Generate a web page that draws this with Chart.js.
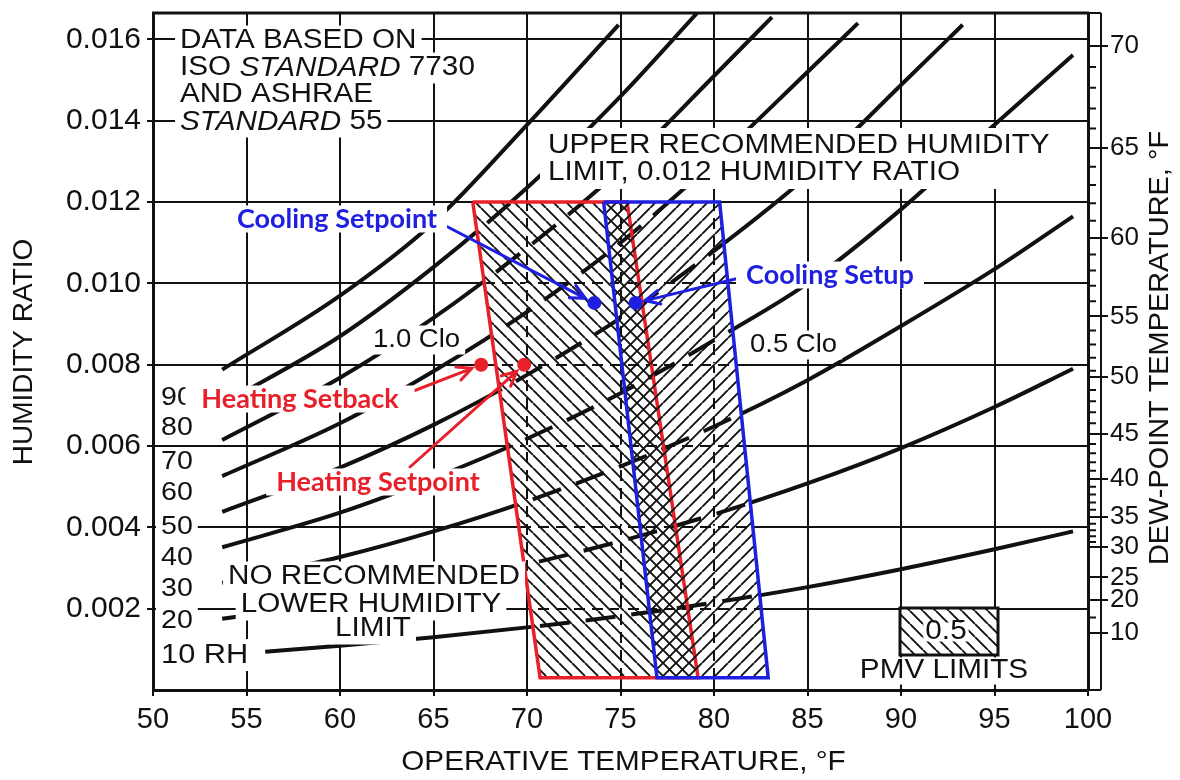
<!DOCTYPE html>
<html>
<head>
<meta charset="utf-8">
<script src="https://cdn.jsdelivr.net/npm/chart.js@4.4.1/dist/chart.umd.min.js"></script>
<style>
  html, body { margin: 0; padding: 0; background: #fff; overflow: hidden; }
  canvas { display: block; }
</style>
</head>
<body>
<canvas id="chart" width="1180" height="780"></canvas>
<script>
// ASHRAE 55 comfort chart - operative temperature vs humidity ratio

const tempTicks = [50, 55, 60, 65, 70, 75, 80, 85, 90, 95, 100];
const ratioTicks = [0.002, 0.004, 0.006, 0.008, 0.010, 0.012, 0.014, 0.016];

// dew-point scale (right side), humidity ratio at each labelled dew point
const dewMajor = [70, 65, 60, 55, 50, 45, 40, 35, 30, 25, 20, 10];
const dewMajorW = [0.01585, 0.01333, 0.01111, 0.00919, 0.0077, 0.0063, 0.00519, 0.00425, 0.00351, 0.00277, 0.00222, 0.00141];
const dewMinorW = [0.01532, 0.01481, 0.01430, 0.01381, 0.01287, 0.01242, 0.01197, 0.01154,
  0.01071, 0.01032, 0.00994, 0.00956, 0.00884, 0.00850, 0.00817, 0.00785,
  0.00738, 0.00710, 0.00683, 0.00656, 0.00605, 0.00582, 0.00560, 0.00539,
  0.00500, 0.00481, 0.00461, 0.00443, 0.00409, 0.00393, 0.00378, 0.00364, 0.00178];

// relative humidity curves (temperature °F, humidity ratio)
const rh10T = [56, 60, 65, 70, 75, 80, 85, 90, 95, 99.2];
const rh10W = [0.00094, 0.00109, 0.00130, 0.00154, 0.00182, 0.00215, 0.00253, 0.00297, 0.00346, 0.00390];
const rh20T = [53.7, 60, 65, 70, 75, 80, 85, 90, 95, 99.2];
const rh20W = [0.00175, 0.00218, 0.00260, 0.00309, 0.00366, 0.00432, 0.00508, 0.00595, 0.00696, 0.00790];
const rh30T = [53.7, 60, 65, 70, 75, 80, 85, 90, 95, 99.2];
const rh30W = [0.00263, 0.00327, 0.00390, 0.00464, 0.00550, 0.00648, 0.00762, 0.00895, 0.01035, 0.01165];
const rh40T = [53.7, 60, 65, 70, 75, 80, 85, 90, 95, 99.2];
const rh40W = [0.00351, 0.00436, 0.00521, 0.00618, 0.00730, 0.00860, 0.01000, 0.01182, 0.01390, 0.01562];
const rh50T = [53.7, 60, 65, 70, 75, 80, 85, 90, 93.3];
const rh50W = [0.00438, 0.00547, 0.00652, 0.00775, 0.00915, 0.01080, 0.01265, 0.01488, 0.01636];
const rh60T = [53.7, 60, 65, 70, 75, 80, 85, 87.7];
const rh60W = [0.00526, 0.00656, 0.00784, 0.00930, 0.01100, 0.01300, 0.01520, 0.01640];
const rh70T = [53.7, 60, 65, 70, 75, 80, 83.1];
const rh70W = [0.00615, 0.00768, 0.00915, 0.01087, 0.01280, 0.01510, 0.01655];
const rh80T = [53.7, 60, 65, 70, 75, 79.1];
const rh80W = [0.00703, 0.00870, 0.01040, 0.01235, 0.01460, 0.01665];
const rh90T = [53.7, 60, 65, 70, 74.9];
const rh90W = [0.00788, 0.00970, 0.01150, 0.01390, 0.01636];

// comfort zones (corner points: top-left, top-right, bottom-right, bottom-left)
const winterT = [67.1, 75.35, 79.15, 70.7];
const winterW = [0.012, 0.012, 0.0003, 0.0003];
const summerT = [74.1, 80.3, 82.9, 76.95];
const summerW = [0.012, 0.012, 0.0003, 0.0003];

// thermostat points
const heatT = [67.55, 69.85];
const heatW = [0.0080, 0.0080];
const coolT = [73.6, 75.8];
const coolW = [0.00952, 0.00952];

const RED = '#e8202a';
const BLUE = '#1f1fe0';
const INK = '#111';
const SANS = "'Liberation Sans', Arial, sans-serif";
const BOLD = "Lato, 'Open Sans', sans-serif";

function hatch(dir) {
  const s = 13;
  const c = document.createElement('canvas');
  c.width = s; c.height = s;
  const g = c.getContext('2d');
  g.strokeStyle = INK;
  g.lineWidth = 1.9;
  g.beginPath();
  for (let k = -1; k <= 1; k++) {
    if (dir === '/') { g.moveTo(k * s, s); g.lineTo(k * s + s, 0); }
    else { g.moveTo(k * s, 0); g.lineTo(k * s + s, s); }
  }
  g.stroke();
  return g.createPattern(c, 'repeat');
}
const hatchBack = hatch('\\');
const hatchFwd = hatch('/');

const pts = (T, W) => T.map((t, i) => ({ x: t, y: W[i] }));
const closed = (T, W) => pts(T, W).concat([{ x: T[0], y: W[0] }]);

function rhCurve(T, W, mode) {
  return {
    type: 'line',
    data: pts(T, W),
    borderColor: INK,
    borderWidth: 4,
    borderDash: mode === 'inside' ? [30, 16] : [],
    pointRadius: 0,
    cubicInterpolationMode: 'monotone',
    fill: false,
    clipZone: mode,
    order: mode === 'inside' ? 29 : 30
  };
}

const rhSets = [[rh10T, rh10W], [rh20T, rh20W], [rh30T, rh30W], [rh40T, rh40W], [rh50T, rh50W],
  [rh60T, rh60W], [rh70T, rh70W], [rh80T, rh80W], [rh90T, rh90W]];

function zonePath(chart, T, W) {
  const xs = chart.scales.x, ys = chart.scales.y;
  const p = new Path2D();
  T.forEach((t, i) => {
    const px = xs.getPixelForValue(t), py = ys.getPixelForValue(W[i]);
    if (i) p.lineTo(px, py); else p.moveTo(px, py);
  });
  p.closePath();
  return p;
}

// text with optional white box behind it; parts = [[text, italic], ...]
function drawText(ctx, parts, x, y, o) {
  const size = o.size || 27, sx = o.sx || 1, weight = o.weight || 'normal';
  const fam = o.family || SANS;
  const widths = parts.map(([t, it]) => {
    ctx.font = `${it ? 'italic ' : ''}${weight} ${size}px ${fam}`;
    return ctx.measureText(t).width * sx;
  });
  const total = widths.reduce((a, b) => a + b, 0);
  let cx = o.align === 'center' ? x - total / 2 : x;
  if (o.bg) {
    const px = o.padX != null ? o.padX : 5, py = o.padY != null ? o.padY : 2;
    ctx.fillStyle = '#fff';
    ctx.fillRect(cx - px, y - size / 2 - py, total + 2 * px, size + 2 * py);
  }
  ctx.fillStyle = o.color || INK;
  ctx.textBaseline = 'middle';
  ctx.textAlign = 'left';
  parts.forEach(([t, it], i) => {
    ctx.font = `${it ? 'italic ' : ''}${weight} ${size}px ${fam}`;
    ctx.save();
    ctx.translate(cx, y);
    ctx.scale(sx, 1);
    ctx.fillText(t, 0, 0);
    ctx.restore();
    cx += widths[i];
  });
}

function arrow(ctx, x1, y1, x2, y2, color) {
  const a = Math.atan2(y2 - y1, x2 - x1), L = 16, sp = 0.45;
  ctx.strokeStyle = color;
  ctx.lineWidth = 3;
  ctx.lineCap = 'round';
  ctx.beginPath();
  ctx.moveTo(x1, y1); ctx.lineTo(x2, y2);
  ctx.moveTo(x2 - L * Math.cos(a - sp), y2 - L * Math.sin(a - sp));
  ctx.lineTo(x2, y2);
  ctx.lineTo(x2 - L * Math.cos(a + sp), y2 - L * Math.sin(a + sp));
  ctx.stroke();
}

const blackNotes = [
  { parts: [['DATA BASED ON']], x: 180, y: 41 },
  { parts: [['ISO '], ['STANDARD', true], [' 7730']], x: 180, y: 68 },
  { parts: [['AND ASHRAE']], x: 180, y: 95 },
  { parts: [['STANDARD', true], [' 55']], x: 180, y: 122 },
  { parts: [['1.0 Clo']], x: 373, y: 340, size: 25 },
  { parts: [['0.5 Clo']], x: 750, y: 345, size: 25 },
  { parts: [['NO RECOMMENDED']], x: 374, y: 577, align: 'center' },
  { parts: [['LOWER HUMIDITY']], x: 371, y: 605, align: 'center' },
  { parts: [['LIMIT']], x: 373, y: 629, align: 'center' },
  { parts: [['90']], x: 161, y: 398, size: 26 },
  { parts: [['80']], x: 161, y: 428, size: 26 },
  { parts: [['70']], x: 161, y: 462, size: 26 },
  { parts: [['60']], x: 161, y: 493, size: 26 },
  { parts: [['50']], x: 161, y: 527, size: 26 },
  { parts: [['40']], x: 161, y: 558, size: 26 },
  { parts: [['30']], x: 161, y: 589, size: 26 },
  { parts: [['20']], x: 161, y: 621, size: 26 },
  { parts: [['10 RH']], x: 161, y: 655, size: 28 }
];

const colorNotes = [
  { text: 'Cooling Setpoint', x: 337, y: 219, color: BLUE, tail: [442, 224], dot: 0, set: 'cool', pad: 10 },
  { text: 'Cooling Setup', x: 830, y: 275, color: BLUE, tail: [748, 276], dot: 1, set: 'cool', pad: 10 },
  { text: 'Heating Setback', x: 300, y: 399, color: RED, tail: [398, 397], dot: 0, set: 'heat', pad: 16 },
  { text: 'Heating Setpoint', x: 378, y: 482, color: RED, tail: [410, 467], dot: 1, set: 'heat', pad: 10 }
];

const comfortPlugin = {
  id: 'comfort',
  beforeDatasetsDraw(chart) {
    // grid lines look broken inside the hatched zones
    const { ctx, chartArea: a } = chart;
    const zones = new Path2D();
    zones.addPath(zonePath(chart, winterT, winterW));
    zones.addPath(zonePath(chart, summerT, summerW));
    ctx.save();
    ctx.clip(zones);
    ctx.strokeStyle = '#fff';
    ctx.lineWidth = 3;
    ctx.setLineDash([7, 11]);
    ctx.beginPath();
    tempTicks.forEach(t => { const px = chart.scales.x.getPixelForValue(t); ctx.moveTo(px, a.top); ctx.lineTo(px, a.bottom); });
    ratioTicks.forEach(w => { const py = chart.scales.y.getPixelForValue(w); ctx.moveTo(a.left, py); ctx.lineTo(a.right, py); });
    ctx.stroke();
    ctx.restore();
  },
  beforeDatasetDraw(chart, args) {
    const ds = chart.data.datasets[args.index];
    if (!ds.clipZone) return;
    const ctx = chart.ctx;
    ctx.save();
    if (ds.clipZone === 'inside') {
      const zones = new Path2D();
      zones.addPath(zonePath(chart, winterT, winterW));
      zones.addPath(zonePath(chart, summerT, summerW));
      ctx.clip(zones);
    } else {
      [[winterT, winterW], [summerT, summerW]].forEach(([T, W]) => {
        const p = new Path2D();
        p.rect(0, 0, chart.width, chart.height);
        p.addPath(zonePath(chart, T, W));
        ctx.clip(p, 'evenodd');
      });
    }
  },
  afterDatasetDraw(chart, args) {
    const ds = chart.data.datasets[args.index];
    if (ds.clipZone) chart.ctx.restore();
  },
  afterDatasetsDraw(chart) {
    const ctx = chart.ctx;
    blackNotes.forEach(n => drawText(ctx, n.parts, n.x, n.y,
      { size: n.size || 27, sx: 1.1, bg: true, align: n.align }));
    // recommended upper limit note sits in one white block
    ctx.fillStyle = '#fff';
    ctx.fillRect(540, 128, 518, 61);
    drawText(ctx, [['UPPER RECOMMENDED HUMIDITY']], 548, 146, { size: 27, sx: 1.1 });
    drawText(ctx, [['LIMIT, 0.012 HUMIDITY RATIO']], 548, 173, { size: 27, sx: 1.1 });
  },
  afterDraw(chart) {
    const { ctx, chartArea: a } = chart;
    const xs = chart.scales.x, ys = chart.scales.y, y2 = chart.scales.y2;
    ctx.save();
    ctx.strokeStyle = INK;
    // top frame
    ctx.lineWidth = 3;
    ctx.beginPath();
    ctx.moveTo(a.left - 1, a.top); ctx.lineTo(a.right + 1, a.top);
    ctx.stroke();
    // dew point strip
    ctx.lineWidth = 2;
    ctx.beginPath();
    ctx.moveTo(a.right + 13, a.top); ctx.lineTo(a.right + 13, a.bottom);
    ctx.moveTo(a.right, a.top); ctx.lineTo(a.right + 13, a.top);
    ctx.moveTo(a.right, a.bottom); ctx.lineTo(a.right + 13, a.bottom);
    dewMinorW.forEach(w => { const py = y2.getPixelForValue(w); ctx.moveTo(a.right, py); ctx.lineTo(a.right + 8, py); });
    ctx.stroke();

    // axis titles
    drawText(ctx, [['OPERATIVE TEMPERATURE, °F']], (a.left + a.right) / 2 + 3, 762, { size: 28, sx: 1.06, align: 'center' });
    ctx.save();
    ctx.translate(24, 352);
    ctx.rotate(-Math.PI / 2);
    drawText(ctx, [['HUMIDITY RATIO']], 0, 0, { size: 28, sx: 1.0, align: 'center' });
    ctx.restore();
    ctx.save();
    ctx.translate(1161, 348);
    ctx.rotate(-Math.PI / 2);
    drawText(ctx, [['DEW-POINT TEMPERATURE, °F']], 0, 0, { size: 27, sx: 1.07, align: 'center' });
    ctx.restore();

    // PMV legend
    ctx.fillStyle = '#fff';
    ctx.fillRect(900, 608, 98, 47);
    ctx.fillStyle = hatchBack;
    ctx.fillRect(900, 608, 98, 47);
    ctx.lineWidth = 3;
    ctx.strokeStyle = INK;
    ctx.strokeRect(900, 608, 98, 47);
    drawText(ctx, [['0.5']], 946, 632, { size: 27, sx: 1.1, align: 'center', bg: true, padX: 2, padY: -4 });
    drawText(ctx, [['PMV LIMITS']], 944, 671, { size: 27, sx: 1.1, align: 'center', bg: true, padY: 0 });

    // coloured annotations with arrows
    colorNotes.forEach(n => {
      const T = n.set === 'cool' ? coolT : heatT, W = n.set === 'cool' ? coolW : heatW;
      const dx = xs.getPixelForValue(T[n.dot]), dy = ys.getPixelForValue(W[n.dot]);
      const [tx, ty] = n.tail;
      const d = Math.hypot(dx - tx, dy - ty);
      arrow(ctx, tx, ty, dx - (dx - tx) / d * 10, dy - (dy - ty) / d * 10, n.color);
    });
    colorNotes.forEach(n => drawText(ctx, [[n.text]], n.x, n.y,
      { size: 27, weight: 'bold', family: BOLD, color: n.color, align: 'center', bg: true, padX: n.pad, padY: 0 }));
    ctx.restore();
  }
};

const datasets = rhSets.flatMap(([T, W]) => [rhCurve(T, W, 'outside'), rhCurve(T, W, 'inside')]);
datasets.push({
  type: 'line', label: '1.0 Clo', data: closed(winterT, winterW),
  borderColor: RED, borderWidth: 3.5, backgroundColor: hatchBack, fill: 'shape',
  pointRadius: 0, tension: 0, order: 20
});
datasets.push({
  type: 'line', label: '0.5 Clo', data: closed(summerT, summerW),
  borderColor: BLUE, borderWidth: 3.5, backgroundColor: hatchFwd, fill: 'shape',
  pointRadius: 0, tension: 0, order: 19
});
datasets.push({
  type: 'scatter', label: 'Heating', data: pts(heatT, heatW),
  backgroundColor: RED, borderWidth: 0, pointRadius: 7, order: 10
});
datasets.push({
  type: 'scatter', label: 'Cooling', data: pts(coolT, coolW),
  backgroundColor: BLUE, borderWidth: 0, pointRadius: 7, order: 10
});

const noPad = s => { s.paddingTop = 0; s.paddingBottom = 0; };

new Chart(document.getElementById('chart'), {
  type: 'line',
  data: { datasets },
  options: {
    responsive: false,
    animation: false,
    devicePixelRatio: 1,
    layout: { padding: { top: 13, left: 0, right: 0, bottom: 0 } },
    plugins: { legend: { display: false }, tooltip: { enabled: false } },
    scales: {
      x: {
        type: 'linear', min: 50, max: 100,
        afterBuildTicks: s => { s.ticks = tempTicks.map(v => ({ value: v })); },
        afterFit: s => { s.height = 90; s.paddingLeft = 0; s.paddingRight = 0; },
        ticks: { color: INK, font: { family: SANS, size: 29 }, padding: 7, maxRotation: 0, autoSkip: false, callback: v => String(v) },
        grid: { color: INK, lineWidth: 2, tickLength: 6 },
        border: { color: INK, width: 3 }
      },
      y: {
        type: 'linear', position: 'left', min: 0, max: 0.01665,
        afterBuildTicks: s => { s.ticks = ratioTicks.map(v => ({ value: v })); },
        afterFit: s => { s.width = 153; noPad(s); },
        ticks: { color: INK, font: { family: SANS, size: 30 }, padding: 6, autoSkip: false, callback: v => v.toFixed(3) },
        grid: { color: INK, lineWidth: 2, tickLength: 6 },
        border: { color: INK, width: 3 }
      },
      y2: {
        type: 'linear', position: 'right', min: 0, max: 0.01665,
        afterBuildTicks: s => { s.ticks = dewMajorW.map(v => ({ value: v })); },
        afterFit: s => { s.width = 92; noPad(s); },
        ticks: { color: INK, font: { family: SANS, size: 26 }, padding: 2, autoSkip: false, callback: (v, i) => String(dewMajor[i]) },
        grid: { drawOnChartArea: false, color: INK, lineWidth: 2, tickLength: 20 },
        border: { color: INK, width: 3 }
      }
    }
  },
  plugins: [comfortPlugin]
});
</script>
</body>
</html>
